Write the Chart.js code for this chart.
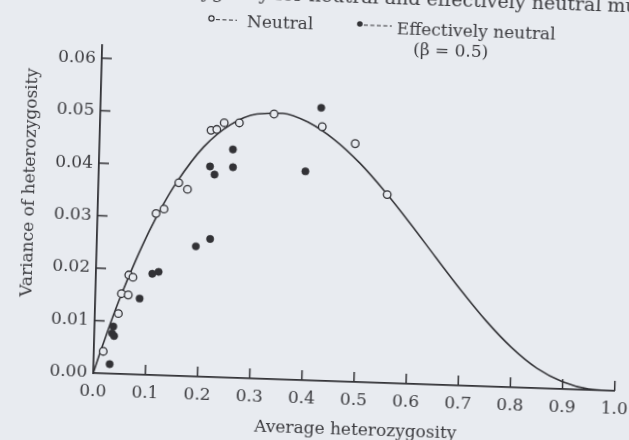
<!DOCTYPE html>
<html>
<head>
<meta charset="utf-8">
<title>Variance of heterozygosity</title>
<script src="https://cdn.jsdelivr.net/npm/chart.js@4/dist/chart.umd.min.js"></script>
<style>
  html, body { margin: 0; padding: 0; width: 629px; height: 440px; overflow: hidden; background: #e8ebf0; }
  /* the printed page sits slightly skewed */
  #plot { position: absolute; left: 0; top: 0; transform-origin: 0 0;
          transform: matrix(1, 0.0341, -0.0273, 1, -25.5, -41.2); }
</style>
</head>
<body>
<canvas id="plot" width="680" height="500"></canvas>
<script>
// Theoretical relationship between average heterozygosity and its variance
const curveH   = [0, 0.01, 0.02, 0.03, 0.05, 0.075, 0.1, 0.125, 0.15, 0.2, 0.25, 0.3, 0.35, 0.4, 0.45, 0.5, 0.55, 0.6, 0.65, 0.7, 0.75, 0.8, 0.85, 0.9, 0.95, 1.0];
const curveVar = [0, 0.0033, 0.0064, 0.0095, 0.0152, 0.0216, 0.0274, 0.0325, 0.0369, 0.0438, 0.0482, 0.0504, 0.0507, 0.0491, 0.0460, 0.0417, 0.0364, 0.0305, 0.0243, 0.0182, 0.0125, 0.0076, 0.0038, 0.0014, 0.0002, 0];

// Neutral mutations (open circles)
const neutralH   = [0.018, 0.045, 0.050, 0.063, 0.063, 0.071, 0.112, 0.127, 0.154, 0.171, 0.213, 0.224, 0.238, 0.267, 0.333, 0.426, 0.490, 0.554];
const neutralVar = [0.0042, 0.0115, 0.0153, 0.0151, 0.0189, 0.0185, 0.0308, 0.0317, 0.0368, 0.0356, 0.0470, 0.0472, 0.0485, 0.0486, 0.0505, 0.0484, 0.0454, 0.0359];

// Effectively neutral mutations, beta = 0.5 (filled circles)
const effH   = [0.031, 0.036, 0.034, 0.038, 0.085, 0.108, 0.120, 0.190, 0.217, 0.213, 0.222, 0.256, 0.257, 0.396, 0.423];
const effVar = [0.0018, 0.0090, 0.0077, 0.0072, 0.0145, 0.0193, 0.0197, 0.0248, 0.0263, 0.0401, 0.0386, 0.0435, 0.0401, 0.0398, 0.0520];

const xTickValues = [0, 0.1, 0.2, 0.3, 0.4, 0.5, 0.6, 0.7, 0.8, 0.9, 1.0];
const yTickValues = [0, 0.01, 0.02, 0.03, 0.04, 0.05, 0.06];

const paper = '#e8ebf0';
const ink = '#323236';
const textInk = '#3b3b3f';
const serif = '"DejaVu Serif", "Liberation Serif", serif';

const pairs = (xs, ys) => xs.map((x, i) => ({ x: x, y: ys[i] }));

const decor = {
  id: 'decor',
  afterDraw(chart) {
    const { ctx, chartArea: a, scales: { x, y } } = chart;
    ctx.save();
    // inward tick marks
    ctx.strokeStyle = ink;
    ctx.lineWidth = 1.5;
    ctx.beginPath();
    xTickValues.slice(1).forEach(v => {
      const px = x.getPixelForValue(v);
      ctx.moveTo(px, a.bottom); ctx.lineTo(px, a.bottom - 10);
    });
    yTickValues.slice(1).forEach(v => {
      const py = y.getPixelForValue(v);
      ctx.moveTo(a.left, py); ctx.lineTo(a.left + 10, py);
    });
    ctx.stroke();

    ctx.fillStyle = textInk;
    // caption line running off the top of the page
    ctx.font = '19px ' + serif;
    ctx.textBaseline = 'alphabetic';
    ctx.textAlign = 'right';
    ctx.fillText('heterozygosity for neutral and ', 453, 31);
    ctx.textAlign = 'left';
    ctx.fillText('effectively neutral mutations', 453, 31);

    // legend
    ctx.font = '17px ' + serif;
    ctx.lineWidth = 1.2;
    ctx.beginPath(); ctx.arc(238.5, 51.5, 2.6, 0, Math.PI * 2);
    ctx.fillStyle = paper; ctx.fill(); ctx.strokeStyle = ink; ctx.stroke();
    ctx.beginPath(); ctx.arc(387, 52, 2.8, 0, Math.PI * 2);
    ctx.fillStyle = ink; ctx.fill();
    ctx.setLineDash([4, 2.5]);
    ctx.beginPath();
    ctx.moveTo(243, 52.5); ctx.lineTo(264, 52.5);
    ctx.moveTo(391, 53); ctx.lineTo(419, 53);
    ctx.stroke();
    ctx.setLineDash([]);
    ctx.fillStyle = textInk;
    ctx.fillText('Neutral', 274, 58.5);
    ctx.fillText('Effectively neutral', 424, 60.5);
    ctx.fillText('(\u03B2 = 0.5)', 441, 81);

    // axis titles
    ctx.textAlign = 'center';
    ctx.fillText('Average heterozygosity', 393.5, 463);
    ctx.translate(65.5, 221.5);
    ctx.rotate(-Math.PI / 2);
    ctx.fillText('Variance of heterozygosity', 0, 0);
    ctx.restore();
  }
};

new Chart(document.getElementById('plot'), {
  type: 'scatter',
  data: {
    datasets: [
      {
        label: 'Theory',
        data: pairs(curveH, curveVar),
        showLine: true,
        borderColor: ink,
        borderWidth: 1.6,
        pointRadius: 0,
        fill: false,
        cubicInterpolationMode: 'monotone',
        order: 3
      },
      {
        label: 'Neutral',
        data: pairs(neutralH, neutralVar),
        pointRadius: 3.8,
        pointBorderWidth: 1.3,
        pointBackgroundColor: paper,
        pointBorderColor: ink,
        order: 1
      },
      {
        label: 'Effectively neutral (\u03B2 = 0.5)',
        data: pairs(effH, effVar),
        pointRadius: 3.7,
        pointBorderWidth: 0.5,
        pointBackgroundColor: ink,
        pointBorderColor: ink,
        order: 2
      }
    ]
  },
  options: {
    responsive: false,
    animation: false,
    devicePixelRatio: 1,
    layout: { padding: { left: 0, top: 82, right: 28.3, bottom: 0 } },
    plugins: { legend: { display: false }, tooltip: { enabled: false } },
    scales: {
      x: {
        type: 'linear', min: 0, max: 1,
        afterFit(s) { s.height = 90; },
        afterBuildTicks(s) { s.ticks = xTickValues.map(v => ({ value: v })); },
        grid: { display: true, drawOnChartArea: false, drawTicks: false },
        border: { display: true, color: ink, width: 1.8 },
        ticks: { padding: 8, color: textInk, font: { family: serif, size: 17 },
                 autoSkip: false, maxRotation: 0, callback: v => Number(v).toFixed(1) }
      },
      y: {
        type: 'linear', min: 0, max: 0.0625,
        afterFit(s) { s.width = 130; },
        afterBuildTicks(s) { s.ticks = yTickValues.map(v => ({ value: v })); },
        grid: { display: true, drawOnChartArea: false, drawTicks: false },
        border: { display: true, color: ink, width: 1.8 },
        ticks: { padding: 6, color: textInk, font: { family: serif, size: 17 },
                 autoSkip: false, callback: v => Number(v).toFixed(2) }
      }
    }
  },
  plugins: [decor]
});
</script>
</body>
</html>
